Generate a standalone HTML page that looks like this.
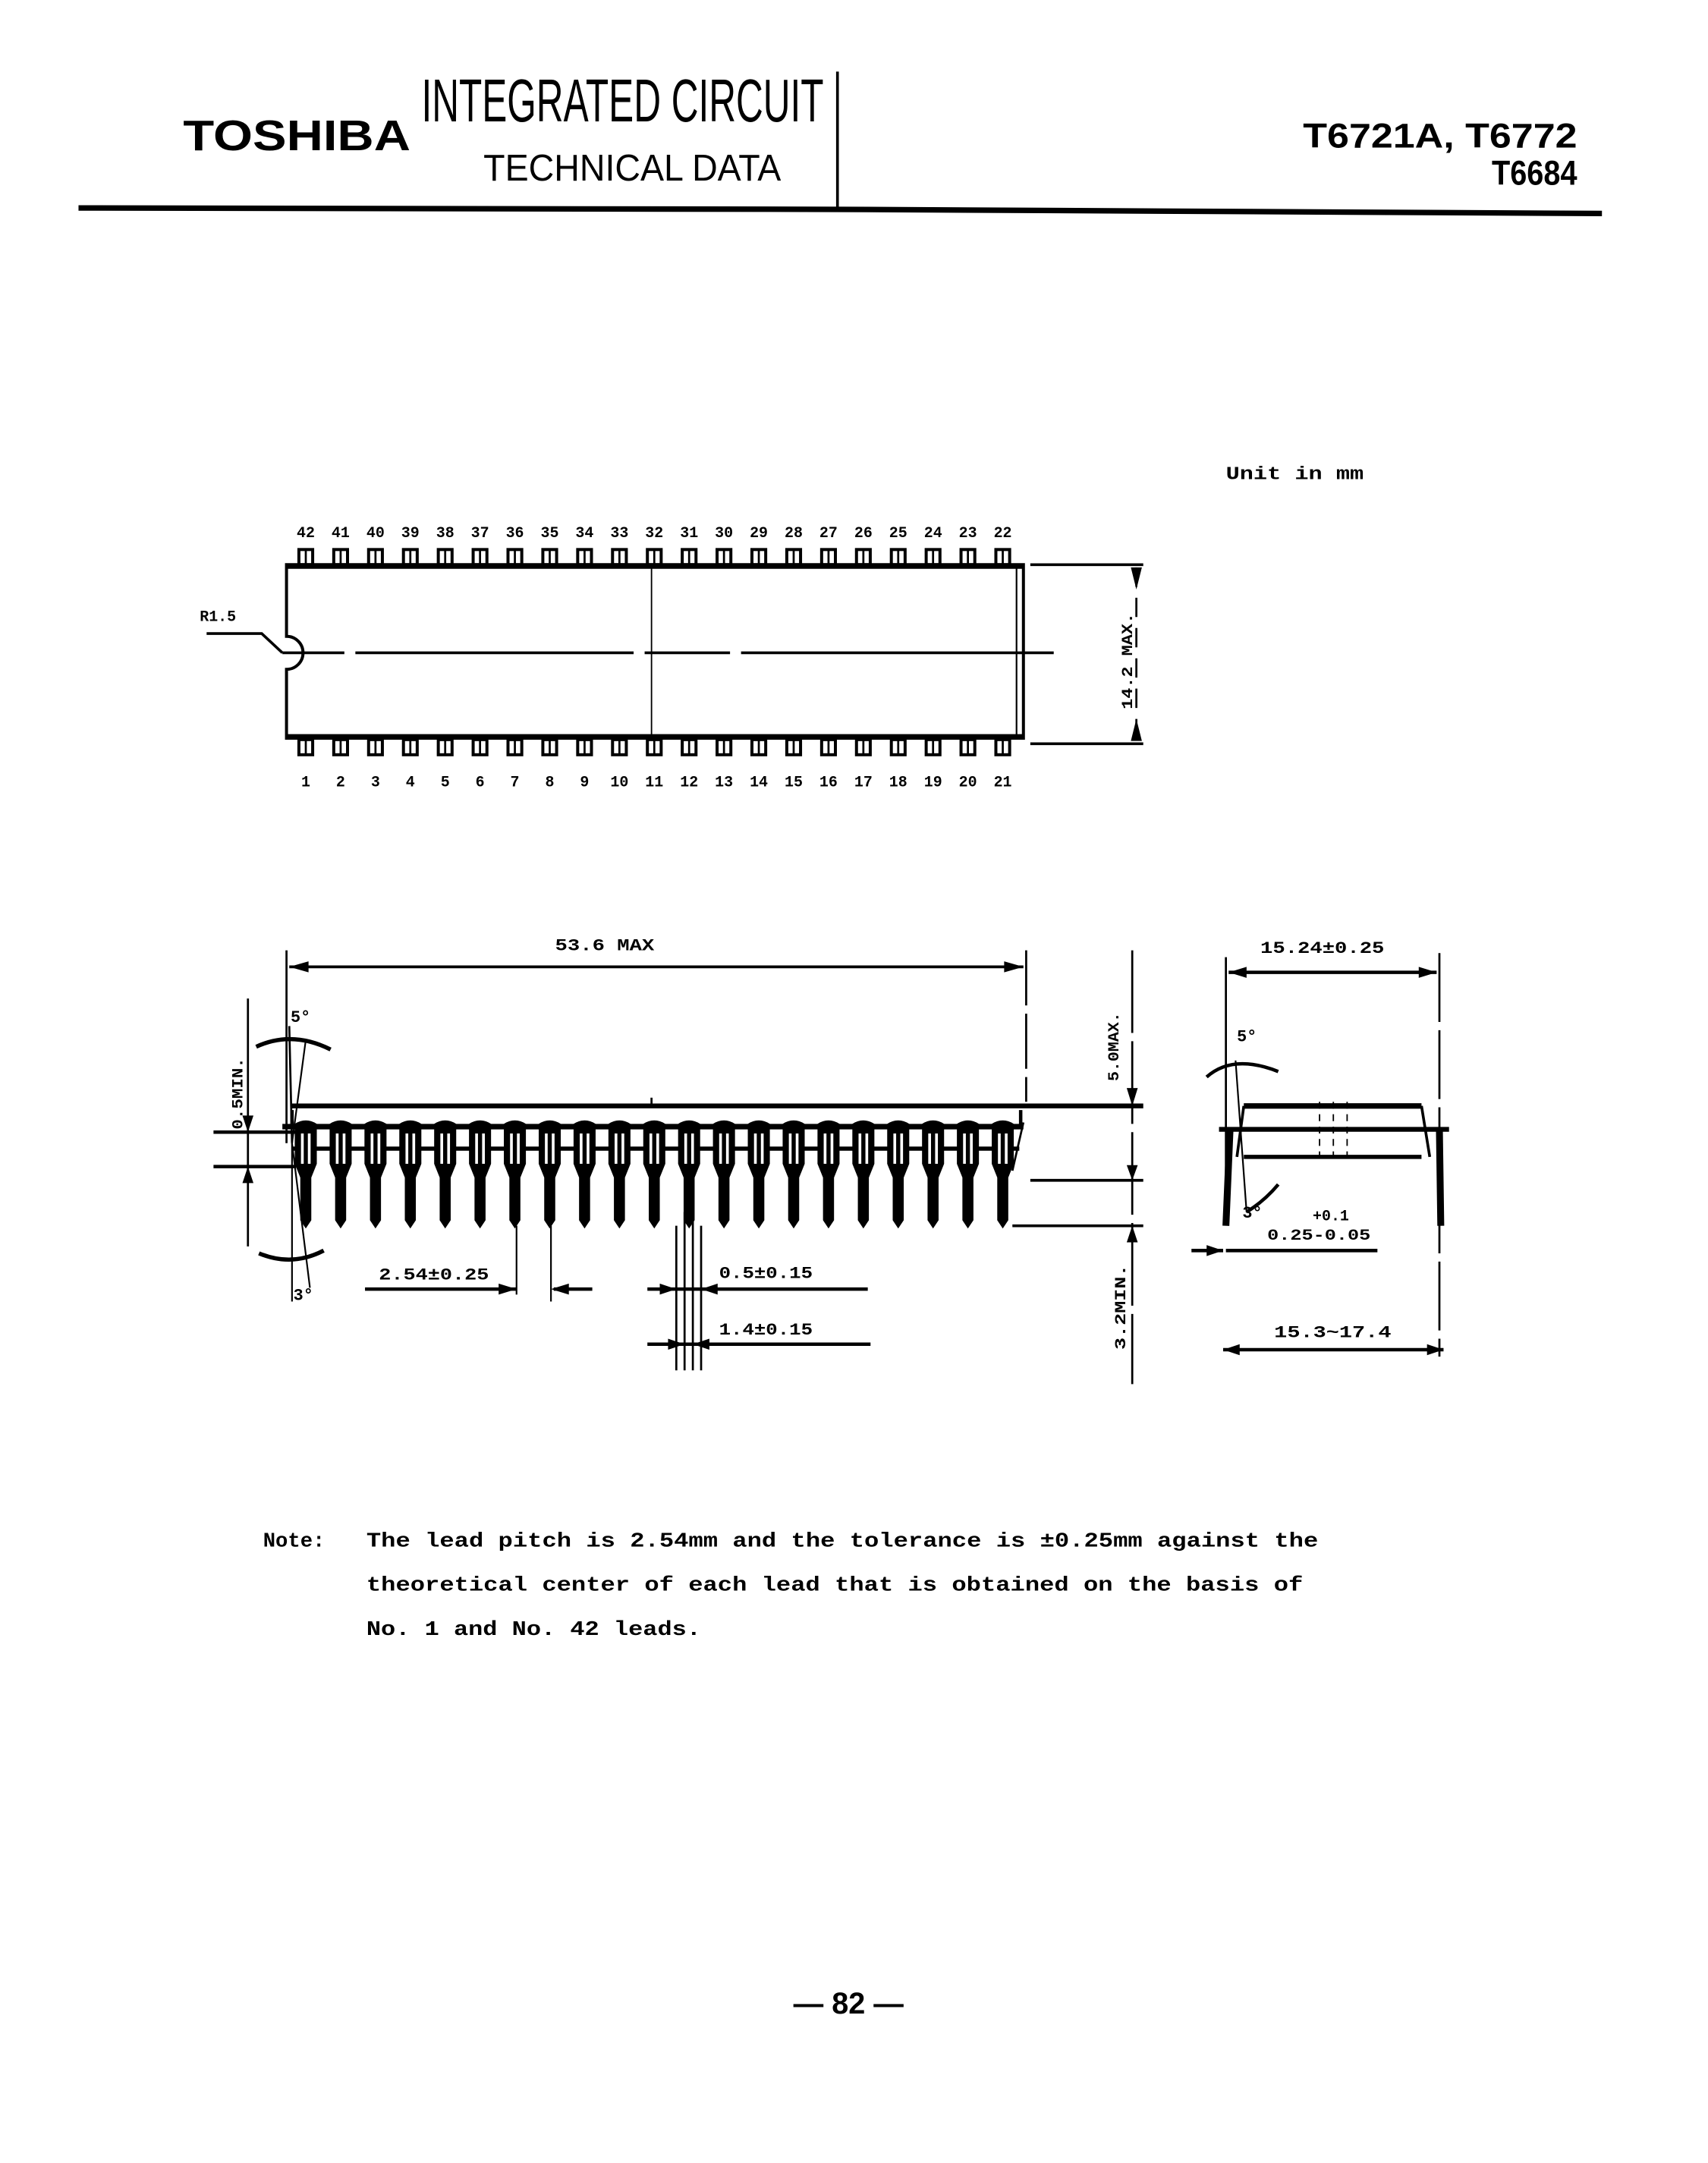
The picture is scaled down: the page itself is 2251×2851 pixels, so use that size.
<!DOCTYPE html>
<html><head><meta charset="utf-8"><style>
html,body{margin:0;padding:0;background:#fff}
svg{display:block}
text{font-family:"Liberation Mono",monospace;font-weight:bold;fill:#000}
</style></head><body>
<svg width="2251" height="2851" viewBox="0 0 1240 1570.5" xmlns="http://www.w3.org/2000/svg">
<defs>
<g id="tp"><rect x="-5" y="399" width="10" height="11" fill="none" stroke="#000" stroke-width="2.2"/><line x1="0" y1="399" x2="0" y2="410" stroke="#000" stroke-width="1.5"/></g>
<g id="bp"><rect x="-5" y="537" width="10" height="11" fill="none" stroke="#000" stroke-width="2.2"/><line x1="0" y1="537" x2="0" y2="548" stroke="#000" stroke-width="1.5"/></g>
<g id="sl"><path d="M-8 816 Q0 811 8 816 L8 845 L4 855 L4 886 L0 892 L-4 886 L-4 855 L-8 845 Z" fill="#000"/><rect x="-3.5" y="823" width="2" height="22" fill="#fff"/><rect x="1.5" y="823" width="2" height="22" fill="#fff"/></g>
</defs>
<g stroke="#000" fill="none">
<!-- header -->
<line x1="608" y1="52" x2="608" y2="153" stroke-width="2"/>
<path d="M57 151 L608 152 L1163 155" stroke-width="4"/>
<!-- top view -->
<path d="M208 410 L743 410 L743 536 L208 536 L208 486 A12 12 0 0 0 208 462 Z" stroke-width="2.2"/>
<line x1="208" y1="411" x2="743" y2="411" stroke-width="4"/>
<line x1="208" y1="535" x2="743" y2="535" stroke-width="4"/>
<line x1="738" y1="412" x2="738" y2="534" stroke-width="1.2"/>
<line x1="473" y1="410" x2="473" y2="536" stroke-width="1"/>
<path d="M205 474 L250 474 M258 474 L460 474 M468 474 L530 474 M538 474 L765 474" stroke-width="2"/>
<path d="M150 460 L190 460 L205 474" stroke-width="2"/>
<line x1="748" y1="410" x2="830" y2="410" stroke-width="2"/>
<line x1="748" y1="540" x2="830" y2="540" stroke-width="2"/>
<line x1="825" y1="412" x2="825" y2="538" stroke-width="1.5" stroke-dasharray="14 8"/>
<!-- side view -->
<line x1="208" y1="690" x2="208" y2="830" stroke-width="1.5"/>
<line x1="745" y1="690" x2="745" y2="800" stroke-width="1.5" stroke-dasharray="40 6"/>
<line x1="210" y1="702" x2="743" y2="702" stroke-width="2"/>
<line x1="212" y1="803" x2="830" y2="803" stroke-width="3.5"/>
<line x1="473" y1="797" x2="473" y2="803" stroke-width="1.5"/>
<path d="M212 806 L212 818 M741 806 L741 818" stroke-width="2.5"/>
<line x1="205" y1="818" x2="743" y2="818" stroke-width="4"/>
<line x1="212" y1="834" x2="740" y2="834" stroke-width="3"/>
<path d="M743 815 L735 850" stroke-width="1.5"/>
<line x1="748" y1="857" x2="830" y2="857" stroke-width="2"/>
<line x1="735" y1="890" x2="830" y2="890" stroke-width="2"/>
<line x1="822" y1="690" x2="822" y2="1005" stroke-width="1.5" stroke-dasharray="60 6"/>
<line x1="180" y1="725" x2="180" y2="905" stroke-width="1.5"/>
<line x1="155" y1="822" x2="215" y2="822" stroke-width="2.5"/>
<line x1="155" y1="847" x2="215" y2="847" stroke-width="2.5"/>
<path d="M210 745 L212 830" stroke-width="1.5"/>
<path d="M222 755 L212 830" stroke-width="1.2"/>
<path d="M186 760 Q212 748 240 762" stroke-width="3"/>
<path d="M212 830 L225 935" stroke-width="1.2"/>
<path d="M212 830 L212 945" stroke-width="1.2"/>
<path d="M188 910 Q212 920 235 908" stroke-width="3"/>
<line x1="265" y1="936" x2="375" y2="936" stroke-width="2.5"/>
<line x1="402" y1="936" x2="430" y2="936" stroke-width="2.5"/>
<line x1="375" y1="890" x2="375" y2="940" stroke-width="1.2"/>
<line x1="400" y1="890" x2="400" y2="945" stroke-width="1.2"/>
<line x1="470" y1="936" x2="630" y2="936" stroke-width="2.5"/>
<line x1="470" y1="976" x2="632" y2="976" stroke-width="2.5"/>
<path d="M491 890 L491 995 M497 880 L497 995 M503 880 L503 995 M509 890 L509 995" stroke-width="1.5"/>
<!-- end view -->
<line x1="890" y1="695" x2="890" y2="880" stroke-width="1.5"/>
<line x1="1045" y1="692" x2="1045" y2="985" stroke-width="1.5" stroke-dasharray="50 6"/>
<line x1="892" y1="706" x2="1043" y2="706" stroke-width="2.5"/>
<line x1="903" y1="803" x2="1032" y2="803" stroke-width="4"/>
<line x1="903" y1="840" x2="1032" y2="840" stroke-width="3"/>
<path d="M903 803 L898 840 M1032 803 L1038 840" stroke-width="2"/>
<line x1="885" y1="820" x2="1052" y2="820" stroke-width="3.5"/>
<path d="M958 800 L958 845 M968 800 L968 845 M978 800 L978 845" stroke-width="1" stroke-dasharray="5 4"/>
<path d="M893 820 L890 890" stroke-width="5"/>
<path d="M1045 820 L1046 890" stroke-width="5"/>
<path d="M897 770 L905 880" stroke-width="1.2"/>
<path d="M876 782 Q895 765 928 778" stroke-width="2.5"/>
<path d="M905 880 Q918 872 928 860" stroke-width="2.5"/>
<line x1="865" y1="908" x2="888" y2="908" stroke-width="2.5"/>
<line x1="890" y1="908" x2="1000" y2="908" stroke-width="2.5"/>
<line x1="888" y1="980" x2="1048" y2="980" stroke-width="2.5"/>
</g>
<g fill="#000">
<!-- arrowheads -->
<path d="M821 412 L829 412 L825 428 Z"/><path d="M821 538 L829 538 L825 522 Z"/>
<path d="M210 702 L224 698 L224 706 Z"/><path d="M743 702 L729 698 L729 706 Z"/>
<path d="M822 803 L818 790 L826 790 Z"/><path d="M822 857 L818 846 L826 846 Z"/><path d="M822 890 L818 902 L826 902 Z"/>
<path d="M180 822 L176 810 L184 810 Z"/><path d="M180 847 L176 859 L184 859 Z"/>
<path d="M375 936 L362 932 L362 940 Z"/><path d="M400 936 L413 932 L413 940 Z"/>
<path d="M491 936 L479 932 L479 940 Z"/><path d="M509 936 L521 932 L521 940 Z"/>
<path d="M497 976 L485 972 L485 980 Z"/><path d="M503 976 L515 972 L515 980 Z"/>
<path d="M892 706 L905 702 L905 710 Z"/><path d="M1043 706 L1030 702 L1030 710 Z"/>
<path d="M888 908 L876 904 L876 912 Z"/>
<path d="M888 980 L900 976 L900 984 Z"/><path d="M1048 980 L1036 976 L1036 984 Z"/>
</g>
<!-- pins -->
<use href="#tp" x="222"/><use href="#tp" x="247.3"/><use href="#tp" x="272.6"/><use href="#tp" x="297.9"/><use href="#tp" x="323.2"/><use href="#tp" x="348.5"/><use href="#tp" x="373.8"/><use href="#tp" x="399.1"/><use href="#tp" x="424.4"/><use href="#tp" x="449.7"/><use href="#tp" x="475"/><use href="#tp" x="500.3"/><use href="#tp" x="525.6"/><use href="#tp" x="550.9"/><use href="#tp" x="576.2"/><use href="#tp" x="601.5"/><use href="#tp" x="626.8"/><use href="#tp" x="652.1"/><use href="#tp" x="677.4"/><use href="#tp" x="702.7"/><use href="#tp" x="728"/>
<use href="#bp" x="222"/><use href="#bp" x="247.3"/><use href="#bp" x="272.6"/><use href="#bp" x="297.9"/><use href="#bp" x="323.2"/><use href="#bp" x="348.5"/><use href="#bp" x="373.8"/><use href="#bp" x="399.1"/><use href="#bp" x="424.4"/><use href="#bp" x="449.7"/><use href="#bp" x="475"/><use href="#bp" x="500.3"/><use href="#bp" x="525.6"/><use href="#bp" x="550.9"/><use href="#bp" x="576.2"/><use href="#bp" x="601.5"/><use href="#bp" x="626.8"/><use href="#bp" x="652.1"/><use href="#bp" x="677.4"/><use href="#bp" x="702.7"/><use href="#bp" x="728"/>
<use href="#sl" x="222"/><use href="#sl" x="247.3"/><use href="#sl" x="272.6"/><use href="#sl" x="297.9"/><use href="#sl" x="323.2"/><use href="#sl" x="348.5"/><use href="#sl" x="373.8"/><use href="#sl" x="399.1"/><use href="#sl" x="424.4"/><use href="#sl" x="449.7"/><use href="#sl" x="475"/><use href="#sl" x="500.3"/><use href="#sl" x="525.6"/><use href="#sl" x="550.9"/><use href="#sl" x="576.2"/><use href="#sl" x="601.5"/><use href="#sl" x="626.8"/><use href="#sl" x="652.1"/><use href="#sl" x="677.4"/><use href="#sl" x="702.7"/><use href="#sl" x="728"/>
<!-- header text -->
<text x="133" y="109" style="font-family:'Liberation Sans',sans-serif;font-weight:900" font-size="31" textLength="165" lengthAdjust="spacingAndGlyphs">TOSHIBA</text>
<text x="306" y="88" style="font-family:'Liberation Sans',sans-serif;font-weight:normal" font-size="44" textLength="292" lengthAdjust="spacingAndGlyphs">INTEGRATED CIRCUIT</text>
<text x="351" y="131" style="font-family:'Liberation Sans',sans-serif;font-weight:normal" font-size="27" textLength="216" lengthAdjust="spacingAndGlyphs">TECHNICAL DATA</text>
<text x="1145" y="107" text-anchor="end" style="font-family:'Liberation Sans',sans-serif;font-weight:900" font-size="25" textLength="199" lengthAdjust="spacingAndGlyphs">T6721A, T6772</text>
<text x="1145" y="134" text-anchor="end" style="font-family:'Liberation Sans',sans-serif;font-weight:900" font-size="25" textLength="62" lengthAdjust="spacingAndGlyphs">T6684</text>
<text x="890" y="348" font-size="13" textLength="100" lengthAdjust="spacingAndGlyphs">Unit in mm</text>
<!-- pin numbers -->
<g font-size="11" text-anchor="middle">
<text x="222" y="390">42</text><text x="247.3" y="390">41</text><text x="272.6" y="390">40</text><text x="297.9" y="390">39</text><text x="323.2" y="390">38</text><text x="348.5" y="390">37</text><text x="373.8" y="390">36</text><text x="399.1" y="390">35</text><text x="424.4" y="390">34</text><text x="449.7" y="390">33</text><text x="475" y="390">32</text><text x="500.3" y="390">31</text><text x="525.6" y="390">30</text><text x="550.9" y="390">29</text><text x="576.2" y="390">28</text><text x="601.5" y="390">27</text><text x="626.8" y="390">26</text><text x="652.1" y="390">25</text><text x="677.4" y="390">24</text><text x="702.7" y="390">23</text><text x="728" y="390">22</text>
<text x="222" y="571">1</text><text x="247.3" y="571">2</text><text x="272.6" y="571">3</text><text x="297.9" y="571">4</text><text x="323.2" y="571">5</text><text x="348.5" y="571">6</text><text x="373.8" y="571">7</text><text x="399.1" y="571">8</text><text x="424.4" y="571">9</text><text x="449.7" y="571">10</text><text x="475" y="571">11</text><text x="500.3" y="571">12</text><text x="525.6" y="571">13</text><text x="550.9" y="571">14</text><text x="576.2" y="571">15</text><text x="601.5" y="571">16</text><text x="626.8" y="571">17</text><text x="652.1" y="571">18</text><text x="677.4" y="571">19</text><text x="702.7" y="571">20</text><text x="728" y="571">21</text>
</g>
<text x="145" y="451" font-size="11">R1.5</text>
<text transform="translate(822,515) rotate(-90)" font-size="11" textLength="70" lengthAdjust="spacingAndGlyphs">14.2 MAX.</text>
<text x="403" y="690" font-size="12" textLength="72" lengthAdjust="spacingAndGlyphs">53.6 MAX</text>
<text transform="translate(812,785) rotate(-90)" font-size="11" textLength="50" lengthAdjust="spacingAndGlyphs">5.0MAX.</text>
<text transform="translate(817,980) rotate(-90)" font-size="11" textLength="62" lengthAdjust="spacingAndGlyphs">3.2MIN.</text>
<text transform="translate(176,820) rotate(-90)" font-size="11" textLength="52" lengthAdjust="spacingAndGlyphs">0.5MIN.</text>
<text x="211" y="742" font-size="12">5°</text>
<text x="213" y="944" font-size="12">3°</text>
<text x="275" y="929" font-size="12" textLength="80" lengthAdjust="spacingAndGlyphs">2.54±0.25</text>
<text x="522" y="928" font-size="12" textLength="68" lengthAdjust="spacingAndGlyphs">0.5±0.15</text>
<text x="522" y="969" font-size="12" textLength="68" lengthAdjust="spacingAndGlyphs">1.4±0.15</text>
<text x="915" y="692" font-size="12" textLength="90" lengthAdjust="spacingAndGlyphs">15.24±0.25</text>
<text x="898" y="756" font-size="12">5°</text>
<text x="902" y="884" font-size="12">3°</text>
<text x="953" y="886" font-size="11">+0.1</text>
<text x="920" y="900" font-size="11" textLength="75" lengthAdjust="spacingAndGlyphs">0.25-0.05</text>
<text x="925" y="971" font-size="12" textLength="85" lengthAdjust="spacingAndGlyphs">15.3~17.4</text>
<!-- note -->
<g font-size="15">
<text x="191" y="1123">Note:</text>
<text x="266" y="1123" textLength="691" lengthAdjust="spacingAndGlyphs">The lead pitch is 2.54mm and the tolerance is ±0.25mm against the</text>
<text x="266" y="1155" textLength="680" lengthAdjust="spacingAndGlyphs">theoretical center of each lead that is obtained on the basis of</text>
<text x="266" y="1187" textLength="243" lengthAdjust="spacingAndGlyphs">No. 1 and No. 42 leads.</text>
</g>
<text x="616" y="1462" text-anchor="middle" style="font-family:'Liberation Sans',sans-serif;font-weight:bold" font-size="22" textLength="80" lengthAdjust="spacingAndGlyphs">— 82 —</text>
</svg>
</body></html>
